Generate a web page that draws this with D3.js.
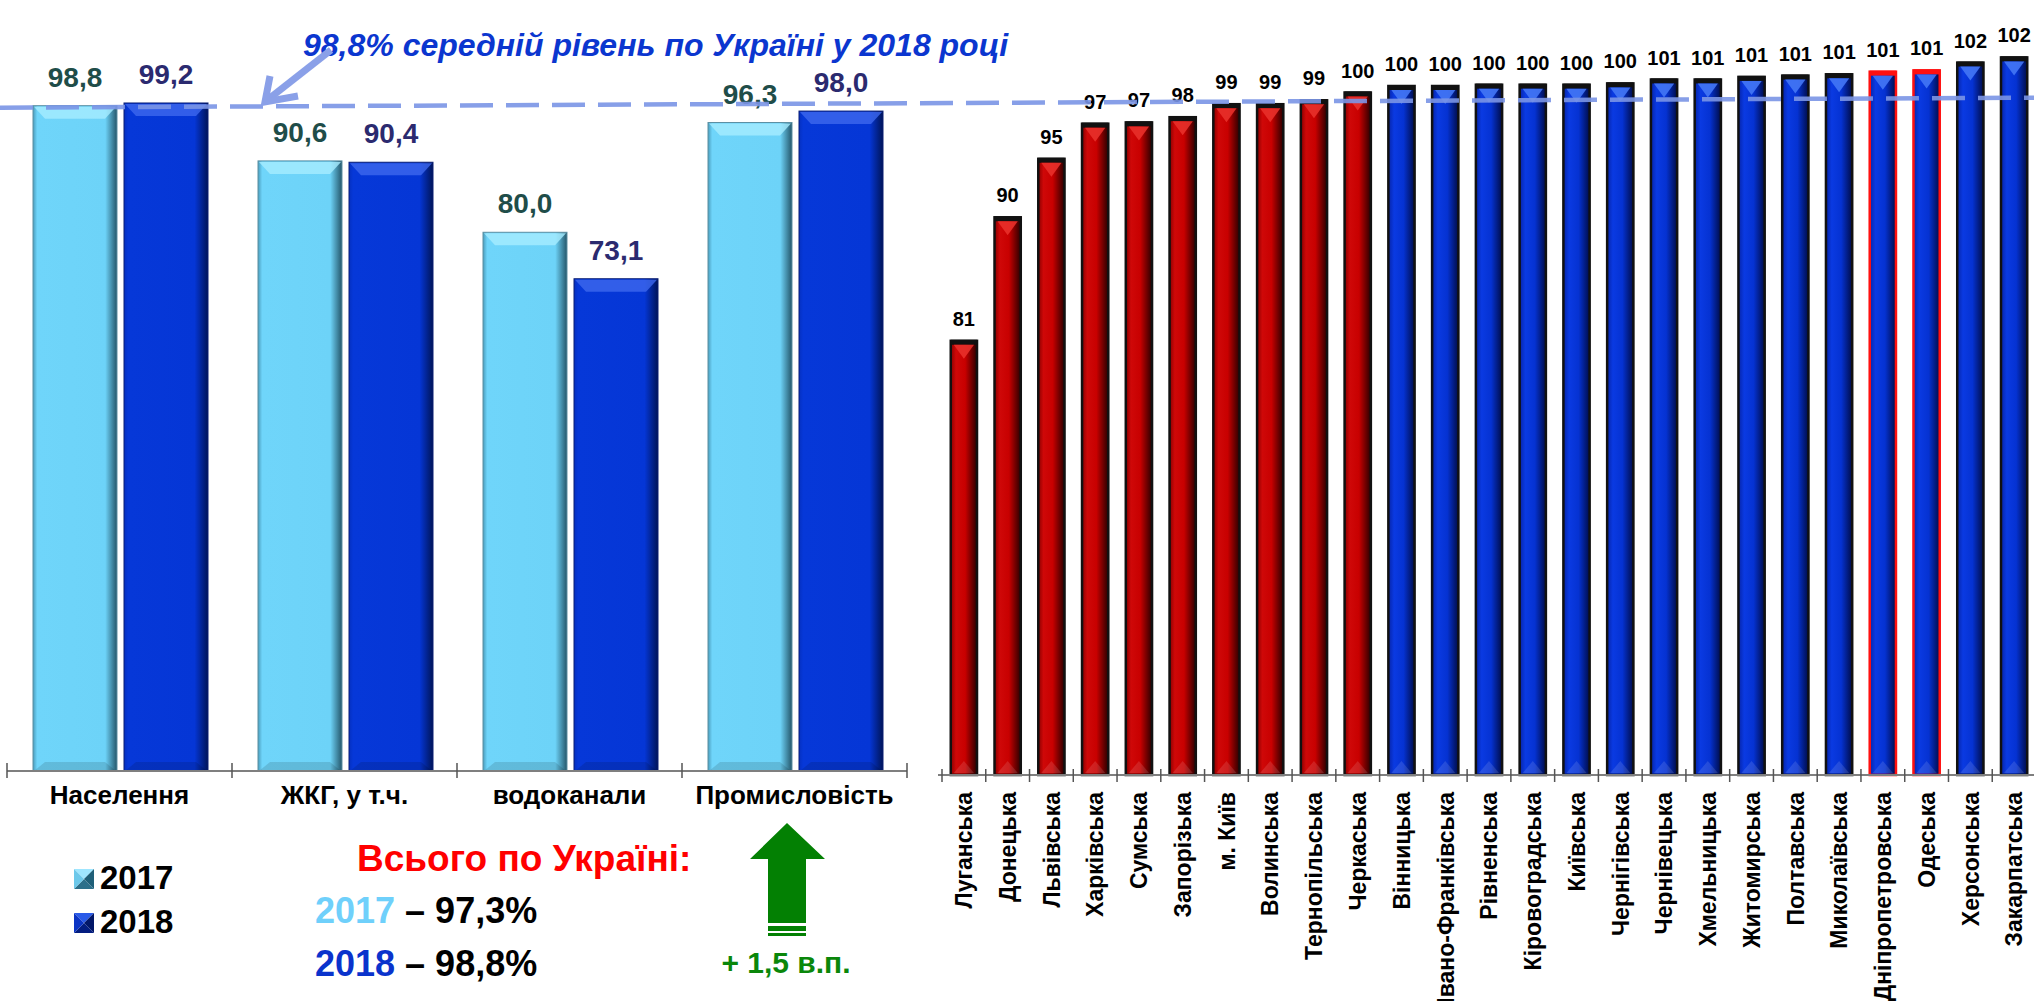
<!DOCTYPE html>
<html>
<head>
<meta charset="utf-8">
<script src="https://cdn.jsdelivr.net/npm/d3@7"></script>
<style>
  body { margin: 0; background: #fff; }
  text { font-family: "Liberation Sans", Arial, sans-serif; font-weight: bold; }
</style>
</head>
<body>
<svg id="chart" width="2034" height="1001"></svg>
<script>

// left chart: level of payments by consumer group, %
var sectors = ["Населення", "ЖКГ, у т.ч.", "водоканали", "Промисловість"];
var years = ["2017", "2018"];
var values2017 = [98.8, 90.6, 80.0, 96.3];
var values2018 = [99.2, 90.4, 73.1, 98.0];
var totals = [97.3, 98.8];        // всього по Україні, 2017 / 2018
var industryGrowth = "+ 1,5 в.п.";

// right chart: regions, % (labels in the picture are rounded)
var regions = ["Луганська", "Донецька", "Львівська", "Харківська", "Сумська", "Запорізька",
    "м. Київ", "Волинська", "Тернопільська", "Черкаська", "Вінницька", "Івано-Франківська",
    "Рівненська", "Кіровоградська", "Київська", "Чернігівська", "Чернівецька", "Хмельницька",
    "Житомирська", "Полтавська", "Миколаївська", "Дніпропетровська", "Одеська", "Херсонська",
    "Закарпатська"];
var regionValues = [80.6, 90.1, 94.6, 97.3, 97.4, 97.8, 98.8, 98.8, 99.1, 99.7, 100.2, 100.2,
    100.3, 100.3, 100.3, 100.4, 100.7, 100.7, 100.9, 101.0, 101.1, 101.3, 101.4, 102.0, 102.4];
var belowAverage = ["Луганська", "Донецька", "Львівська", "Харківська", "Сумська", "Запорізька",
    "м. Київ", "Волинська", "Тернопільська", "Черкаська"];
var outlined = ["Дніпропетровська", "Одеська"];

var svg = d3.select("#chart");
var defs = svg.append("defs");

// horizontal gradients for the "bevelled" bars
function makeGrad(id, stops) {
    var g = defs.append("linearGradient").attr("id", id)
        .attr("x1", "0%").attr("x2", "100%").attr("y1", "0%").attr("y2", "0%");
    stops.forEach(function(s) {
        g.append("stop").attr("offset", s[0]).attr("stop-color", s[1]);
    });
}
makeGrad("g2017", [["0%", "#4a9cbc"], ["5%", "#6fd5fa"], ["86%", "#6dd3f8"], ["100%", "#24566a"]]);
makeGrad("g2018", [["0%", "#0530c0"], ["5%", "#0638d8"], ["84%", "#0536d6"], ["100%", "#001458"]]);
makeGrad("gRed", [["0%", "#8a0000"], ["20%", "#cf0808"], ["55%", "#c80000"], ["100%", "#2a0000"]]);
makeGrad("gBlue", [["0%", "#0624a8"], ["22%", "#0a3ae2"], ["58%", "#0532d2"], ["100%", "#000c48"]]);

// ---------------- left chart ----------------
var leftBase = 771;
var xL = d3.scaleBand().domain(sectors).range([7, 907]);
var xSub = d3.scaleBand().domain(years).range([26, 201]).paddingInner(0.077);
var yL = d3.scaleLinear().domain([0, 100]).range([leftBase, 97.6]);

var rows = [];
sectors.forEach(function(s, i) {
    rows.push({sector: s, year: "2017", value: values2017[i]});
    rows.push({sector: s, year: "2018", value: values2018[i]});
});

var barStyle = {
    "2017": {fill: "url(#g2017)", stroke: "#5c8fa2", bevel: "#a6ecff", label: "#1f4d49"},
    "2018": {fill: "url(#g2018)", stroke: "#0b1f74", bevel: "#3d68ee", label: "#2b2a6f"}
};

var leftBars = svg.append("g").selectAll(".lbar")
    .data(rows)
    .enter()
    .append("g")
    .attr("class", "lbar");

leftBars.append("rect")
    .attr("x", function(d) { return xL(d.sector) + xSub(d.year); })
    .attr("y", function(d) { return yL(d.value); })
    .attr("width", xSub.bandwidth())
    .attr("height", function(d) { return leftBase - yL(d.value); })
    .attr("fill", function(d) { return barStyle[d.year].fill; })
    .attr("stroke", function(d) { return barStyle[d.year].stroke; })
    .attr("stroke-width", 1);

// top bevel
leftBars.append("polygon")
    .attr("points", function(d) {
        var x = xL(d.sector) + xSub(d.year), w = xSub.bandwidth(), t = yL(d.value);
        return [[x + 1, t + 1], [x + w - 1, t + 1], [x + w - 12, t + 13], [x + 12, t + 13]].join(" ");
    })
    .attr("fill", function(d) { return barStyle[d.year].bevel; })
    .attr("opacity", 0.8);

// bottom bevel
leftBars.append("polygon")
    .attr("points", function(d) {
        var x = xL(d.sector) + xSub(d.year), w = xSub.bandwidth(), b = leftBase;
        return [[x + 1, b], [x + w - 1, b], [x + w - 12, b - 9], [x + 12, b - 9]].join(" ");
    })
    .attr("fill", "#000")
    .attr("opacity", 0.12);

leftBars.append("text")
    .attr("x", function(d) { return xL(d.sector) + xSub(d.year) + xSub.bandwidth() / 2; })
    .attr("y", function(d) { return yL(d.value) - 19; })
    .attr("text-anchor", "middle")
    .attr("font-size", 28)
    .attr("fill", function(d) { return barStyle[d.year].label; })
    .text(function(d) { return d3.format(".1f")(d.value).replace(".", ","); });

// left category axis, ticks between groups
var leftAxis = svg.append("g");
leftAxis.append("line")
    .attr("x1", xL.range()[0]).attr("x2", xL.range()[1])
    .attr("y1", leftBase).attr("y2", leftBase)
    .attr("stroke", "#7f7f7f").attr("stroke-width", 2);
leftAxis.selectAll(".tick")
    .data(sectors.map(function(s) { return xL(s); }).concat([xL.range()[1]]))
    .enter().append("line")
    .attr("x1", function(d) { return d; }).attr("x2", function(d) { return d; })
    .attr("y1", leftBase - 8).attr("y2", leftBase + 7)
    .attr("stroke", "#555").attr("stroke-width", 1.5);
leftAxis.selectAll(".cat")
    .data(sectors)
    .enter().append("text")
    .attr("x", function(d) { return xL(d) + xL.bandwidth() / 2; })
    .attr("y", 804)
    .attr("text-anchor", "middle")
    .attr("font-size", 26)
    .attr("fill", "#000")
    .text(function(d) { return d; });

// legend with small pyramid squares
function bevelSquare(g, x, y, s, shades) {
    var c = [x + s / 2, y + s / 2];
    var tris = [
        [[x, y], [x + s, y], c],
        [[x + s, y], [x + s, y + s], c],
        [[x, y + s], [x + s, y + s], c],
        [[x, y], [x, y + s], c]
    ];
    tris.forEach(function(t, i) {
        g.append("polygon").attr("points", t.join(" ")).attr("fill", shades[i]);
    });
}
var legend = svg.append("g");
bevelSquare(legend, 74, 869, 20, ["#9fe6ff", "#1f5f78", "#2c6f8a", "#6cc8ea"]);
bevelSquare(legend, 74, 913, 20, ["#2a5ae8", "#021768", "#031d80", "#0b34c4"]);
legend.selectAll(".ltxt")
    .data(years)
    .enter().append("text")
    .attr("x", 100)
    .attr("y", function(d, i) { return 889 + i * 44; })
    .attr("font-size", 33)
    .attr("fill", "#000")
    .text(function(d) { return d; });

// totals block
svg.append("text")
    .attr("x", 357).attr("y", 871)
    .attr("font-size", 37).attr("fill", "#ff0000")
    .text("Всього по Україні:");
var totalColors = ["#6fd0fb", "#0a33cc"];
years.forEach(function(yr, i) {
    var t = svg.append("text")
        .attr("x", 315).attr("y", 923 + i * 53)
        .attr("font-size", 36);
    t.append("tspan").attr("fill", totalColors[i]).text(yr);
    t.append("tspan").attr("fill", "#000")
        .text(" – " + d3.format(".1f")(totals[i]).replace(".", ",") + "%");
});

// green arrow for industry growth
var arrow = svg.append("g").attr("fill", "#038003");
arrow.append("polygon")
    .attr("points", [[787, 823], [825, 859], [806, 859], [806, 923], [768, 923], [768, 859], [750, 859]].join(" "));
arrow.append("rect").attr("x", 768).attr("y", 926).attr("width", 38).attr("height", 5);
arrow.append("rect").attr("x", 768).attr("y", 933).attr("width", 38).attr("height", 3);
svg.append("text")
    .attr("x", 786).attr("y", 973)
    .attr("text-anchor", "middle")
    .attr("font-size", 30).attr("fill", "#0a870a")
    .text(industryGrowth);

// ---------------- right chart ----------------
var rightBase = 775;
var xR = d3.scaleBand().domain(regions).range([942, 2036]);
var yR = d3.scaleLinear().domain([47.2, 102.8]).range([rightBase, 52.2]);
var bw = xR.bandwidth() * 0.6;

var regionRows = regions.map(function(r, i) { return {region: r, value: regionValues[i]}; });

var rightBars = svg.append("g").selectAll(".rbar")
    .data(regionRows)
    .enter()
    .append("g")
    .attr("class", "rbar");

function barX(d) { return xR(d.region) + xR.bandwidth() * 0.2; }
function isRed(d) { return belowAverage.indexOf(d.region) >= 0; }
function edgeColor(d) { return outlined.indexOf(d.region) >= 0 ? "#ff1010" : "#111"; }

rightBars.append("rect")
    .attr("x", barX)
    .attr("y", function(d) { return yR(d.value); })
    .attr("width", bw)
    .attr("height", function(d) { return rightBase - yR(d.value); })
    .attr("fill", function(d) { return isRed(d) ? "url(#gRed)" : "url(#gBlue)"; })
    .attr("stroke", edgeColor)
    .attr("stroke-width", 2.5);

// top cap
rightBars.append("rect")
    .attr("x", barX)
    .attr("y", function(d) { return yR(d.value) - 1; })
    .attr("width", bw)
    .attr("height", 5)
    .attr("fill", edgeColor);

// small bevel triangle below the cap
rightBars.append("polygon")
    .attr("points", function(d) {
        var x = barX(d), t = yR(d.value) + 4;
        return [[x + 3, t], [x + bw - 3, t], [x + bw / 2, t + 14]].join(" ");
    })
    .attr("fill", function(d) { return isRed(d) ? "#e8302a" : "#4477f5"; })
    .attr("opacity", 0.9);

// faint triangle at the bottom
rightBars.append("polygon")
    .attr("points", function(d) {
        var x = barX(d), b = rightBase - 2;
        return [[x + 3, b], [x + bw - 3, b], [x + bw / 2, b - 12]].join(" ");
    })
    .attr("fill", "#fff")
    .attr("opacity", 0.12);

rightBars.append("text")
    .attr("x", function(d) { return xR(d.region) + xR.bandwidth() / 2; })
    .attr("y", function(d) { return yR(d.value) - 15; })
    .attr("text-anchor", "middle")
    .attr("font-size", 20)
    .attr("fill", "#000")
    .text(function(d) { return d3.format(".0f")(d.value); });

var rightAxis = svg.append("g");
rightAxis.append("line")
    .attr("x1", 938).attr("x2", 2034)
    .attr("y1", rightBase).attr("y2", rightBase)
    .attr("stroke", "#7f7f7f").attr("stroke-width", 2);
rightAxis.selectAll(".tick")
    .data(regions.map(function(r) { return xR(r); }))
    .enter().append("line")
    .attr("x1", function(d) { return d; }).attr("x2", function(d) { return d; })
    .attr("y1", rightBase - 6).attr("y2", rightBase + 7)
    .attr("stroke", "#555").attr("stroke-width", 1.5);
rightAxis.selectAll(".reg")
    .data(regions)
    .enter().append("text")
    .attr("transform", function(d) {
        return "translate(" + (xR(d) + xR.bandwidth() / 2) + ",792) rotate(-90)";
    })
    .attr("dy", "0.36em")
    .attr("text-anchor", "end")
    .attr("font-size", 23)
    .attr("fill", "#000")
    .text(function(d) { return d; });

// ---------------- average line + annotation ----------------
var avg2018 = totals[1];
svg.append("line")
    .attr("x1", 0).attr("y1", yL(avg2018) + 2)
    .attr("x2", 2034).attr("y2", yL(avg2018) - 8)
    .attr("stroke", "#7b95e6")
    .attr("stroke-width", 4.5)
    .attr("stroke-dasharray", "33,13")
    .attr("opacity", 0.9);

svg.append("text")
    .attr("x", 303).attr("y", 56)
    .attr("font-size", 32)
    .attr("font-style", "italic")
    .attr("fill", "#0b36cf")
    .text(d3.format(".1f")(avg2018).replace(".", ",") + "% середній рівень по Україні у 2018 році");

// pointer arrow to the dashed line
var pointer = svg.append("g")
    .attr("stroke", "#8aa0e8").attr("stroke-width", 7)
    .attr("fill", "none").attr("stroke-linecap", "butt");
pointer.append("line").attr("x1", 331).attr("y1", 50).attr("x2", 266).attr("y2", 101);
pointer.append("polyline")
    .attr("points", [[270, 76], [265, 102], [298, 96]].join(" "))
    .attr("stroke-linejoin", "miter");

</script>
</body>
</html>
